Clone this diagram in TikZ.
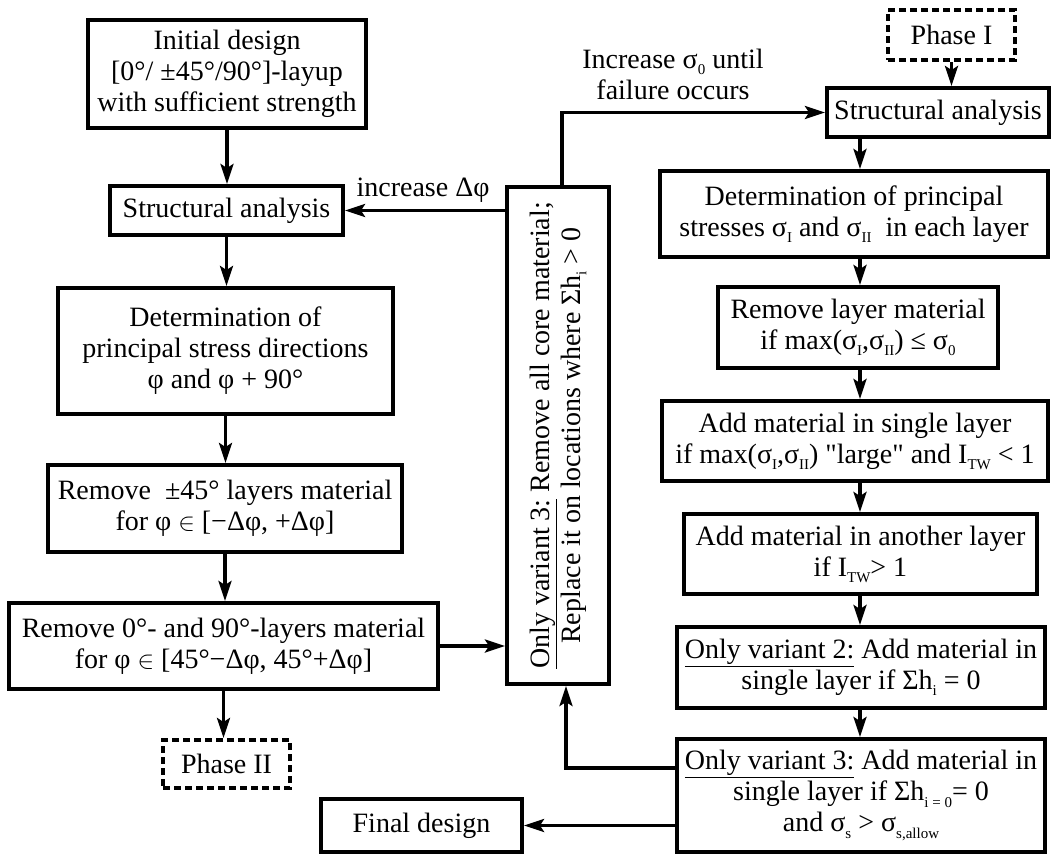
\documentclass[tikz,border=0pt]{standalone}
\usepackage{fontspec}
\setmainfont{Liberation Serif}
\usetikzlibrary{arrows.meta,calc}
\newcommand\sbs[1]{\raisebox{-0.22em}{\fontsize{15}{15}\selectfont #1}}
\begin{document}
\begin{tikzpicture}[x=1pt,y=-1pt,
  every node/.style={font=\fontsize{28}{31}\selectfont, align=center, inner sep=0pt},
  box/.style={draw, line width=4pt},
  dbox/.style={draw, line width=4pt, dash pattern=on 7pt off 4pt},
  arr/.style={line width=3.5pt, -{Stealth[length=20pt,width=13pt,inset=4pt]}}]
\useasboundingbox (0,0) rectangle (1053,857);
% left column
\node[box, minimum width=278pt, minimum height=108pt] (init) at (227,74) {Initial design\\{}{[0°/ ±45°/90°]-layup}\\with sufficient strength};
\node[box, minimum width=233pt, minimum height=49pt] (sa1) at (226.5,210.5) {Structural analysis};
\node[box, minimum width=335pt, minimum height=126pt] (det1) at (225.5,351) {Determination of\\principal stress directions\\φ and φ + 90°};
\node[box, minimum width=354pt, minimum height=87pt] (rm45) at (225,508.5) {Remove \ ±45° layers material\\for φ $\in$ {[−Δφ, +Δφ]}};
\node[box, minimum width=429pt, minimum height=86pt] (rm090) at (223.5,646) {Remove 0°- and 90°-layers material\\for φ $\in$ {[45°−Δφ, 45°+Δφ]}};
\node[dbox, minimum width=127pt, minimum height=48pt] (ph2) at (226.5,764) {Phase II};
\node[box, minimum width=201pt, minimum height=53pt] (fin) at (421.5,825.5) {Final design};
% middle vertical box
\node[box, minimum width=102pt, minimum height=497pt] (vb) at (558,435.5) {};
\node[rotate=90] (vbt) at (vb.center) {\underline{Only variant 3:} Remove all core material;\\Replace it on locations where Σh\sbs{i} > 0};
% right column
\node[dbox, minimum width=127pt, minimum height=50pt] (ph1) at (951.5,35) {Phase I};
\node[box, minimum width=222pt, minimum height=49pt] (sa2) at (938,112.5) {Structural analysis};
\node[box, minimum width=388pt, minimum height=86pt] (det2) at (854,214) {Determination of principal\\stresses σ\sbs{I} and σ\sbs{II} \ in each layer};
\node[box, minimum width=280pt, minimum height=81pt] (rml) at (858,327.5) {Remove layer material\\if max(σ\sbs{I},σ\sbs{II}) ≤ σ\sbs{0}};
\node[box, minimum width=386pt, minimum height=80pt] (add1) at (855,441) {Add material in single layer\\if max(σ\sbs{I},σ\sbs{II}) \textquotedbl large\textquotedbl\ and I\sbs{TW} < 1};
\node[box, minimum width=353pt, minimum height=80pt] (add2) at (860.5,554) {Add material in another layer\\if I\sbs{TW}> 1};
\node[box, minimum width=368pt, minimum height=81pt] (var2) at (861,667.5) {\underline{Only variant 2:} Add material in\\single layer if Σh\sbs{i} = 0};
\node[box, minimum width=368pt, minimum height=113pt] (var3) at (861,795.5) {\underline{Only variant 3:} Add material in\\single layer if Σh\sbs{i = 0}= 0\\and σ\sbs{s} > σ\sbs{s,allow}};
% labels
\node (lbl1) at (673,74) {Increase σ\sbs{0} until\\failure occurs};
\node (lbl2) at (423,190) {increase Δφ};
% left arrows
\draw[arr] (init.south) -- (init.south |- sa1.north);
\draw[arr] (sa1.south) -- (sa1.south |- det1.north);
\draw[arr] (det1.south) -- (det1.south |- rm45.north);
\draw[arr] (rm45.south) -- (rm45.south |- rm090.north);
\draw[arr] (rm090.south) -- (rm090.south |- ph2.north);
% right arrows
\coordinate (rx) at (860,0);
\draw[arr] (ph1.south) -- (ph1.south |- sa2.north);
\draw[arr] (rx |- sa2.south) -- (rx |- det2.north);
\draw[arr] (rx |- det2.south) -- (rx |- rml.north);
\draw[arr] (rx |- rml.south) -- (rx |- add1.north);
\draw[arr] (rx |- add1.south) -- (rx |- add2.north);
\draw[arr] (rx |- add2.south) -- (rx |- var2.north);
\draw[arr] (rx |- var2.south) -- (rx |- var3.north);
% loops
\draw[arr] ([xshift=4pt]vb.north) |- (sa2.west);
\draw[arr] (vb.west |- sa1.east) -- (sa1.east);
\draw[arr] (rm090.east) -- (rm090.east -| vb.west);
\coordinate (v3a) at ($(var3.west)+(0,-27.5)$);
\draw[arr] (v3a) -| ([xshift=8pt]vb.south);
\draw[arr] (var3.west |- fin.east) -- (fin.east);
\end{tikzpicture}
\end{document}
